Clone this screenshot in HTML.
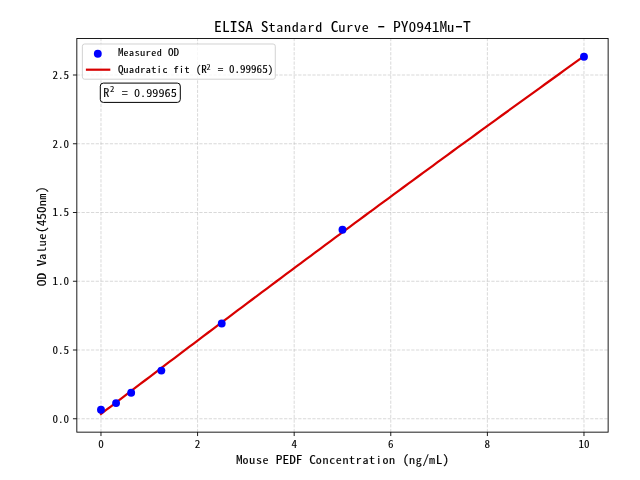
<!DOCTYPE html>
<html><head><meta charset="utf-8"><title>ELISA Standard Curve - PY0941Mu-T</title>
<style>html,body{margin:0;padding:0;background:#fff;overflow:hidden}svg{display:block}</style></head>
<body><svg width="640" height="480" viewBox="0 0 640 480" font-family="'Noto Sans Mono CJK SC','WenQuanYi Zen Hei Mono','IPAGothic','Liberation Mono',monospace"><rect x="0" y="0" width="640" height="480" fill="#fff"/>
<g stroke="#b0b0b0" stroke-opacity="0.55" stroke-width="0.89" stroke-dasharray="3.29 1.42"><line x1="100.98" y1="432.15" x2="100.98" y2="38.50"/><line x1="197.58" y1="432.15" x2="197.58" y2="38.50"/><line x1="294.18" y1="432.15" x2="294.18" y2="38.50"/><line x1="390.78" y1="432.15" x2="390.78" y2="38.50"/><line x1="487.38" y1="432.15" x2="487.38" y2="38.50"/><line x1="583.98" y1="432.15" x2="583.98" y2="38.50"/><line x1="76.83" y1="418.75" x2="608.13" y2="418.75"/><line x1="76.83" y1="350.00" x2="608.13" y2="350.00"/><line x1="76.83" y1="281.25" x2="608.13" y2="281.25"/><line x1="76.83" y1="212.50" x2="608.13" y2="212.50"/><line x1="76.83" y1="143.75" x2="608.13" y2="143.75"/><line x1="76.83" y1="75.00" x2="608.13" y2="75.00"/></g>
<polyline points="100.98,413.96 105.86,410.23 110.74,406.51 115.62,402.79 120.50,399.07 125.37,395.35 130.25,391.63 135.13,387.92 140.01,384.21 144.89,380.50 149.77,376.79 154.65,373.09 159.53,369.39 164.40,365.69 169.28,361.99 174.16,358.30 179.04,354.60 183.92,350.91 188.80,347.22 193.68,343.54 198.56,339.86 203.43,336.18 208.31,332.50 213.19,328.82 218.07,325.15 222.95,321.47 227.83,317.81 232.71,314.14 237.59,310.47 242.46,306.81 247.34,303.15 252.22,299.49 257.10,295.84 261.98,292.19 266.86,288.53 271.74,284.89 276.62,281.24 281.50,277.60 286.37,273.95 291.25,270.32 296.13,266.68 301.01,263.04 305.89,259.41 310.77,255.78 315.65,252.15 320.53,248.53 325.40,244.91 330.28,241.29 335.16,237.67 340.04,234.05 344.92,230.44 349.80,226.83 354.68,223.22 359.56,219.61 364.43,216.01 369.31,212.40 374.19,208.80 379.07,205.21 383.95,201.61 388.83,198.02 393.71,194.43 398.59,190.84 403.46,187.25 408.34,183.67 413.22,180.09 418.10,176.51 422.98,172.93 427.86,169.36 432.74,165.79 437.62,162.22 442.50,158.65 447.37,155.09 452.25,151.52 457.13,147.96 462.01,144.41 466.89,140.85 471.77,137.30 476.65,133.75 481.53,130.20 486.40,126.65 491.28,123.11 496.16,119.56 501.04,116.02 505.92,112.49 510.80,108.95 515.68,105.42 520.56,101.89 525.43,98.36 530.31,94.84 535.19,91.31 540.07,87.79 544.95,84.27 549.83,80.76 554.71,77.24 559.59,73.73 564.46,70.22 569.34,66.72 574.22,63.21 579.10,59.71 583.98,56.21" fill="none" stroke="#d80000" stroke-width="2.22" stroke-linecap="square" stroke-linejoin="round"/>
<circle cx="100.98" cy="409.74" r="3.93" fill="#0000ff"/>
<circle cx="116.07" cy="403.07" r="3.93" fill="#0000ff"/>
<circle cx="131.17" cy="392.76" r="3.93" fill="#0000ff"/>
<circle cx="161.36" cy="370.62" r="3.93" fill="#0000ff"/>
<circle cx="221.73" cy="323.50" r="3.93" fill="#0000ff"/>
<circle cx="342.48" cy="229.76" r="3.93" fill="#0000ff"/>
<circle cx="583.98" cy="56.71" r="3.93" fill="#0000ff"/>
<rect x="76.83" y="38.50" width="531.30" height="393.65" fill="none" stroke="#000" stroke-width="0.89"/>
<g stroke="#000" stroke-width="0.89"><line x1="100.98" y1="432.15" x2="100.98" y2="436.04"/><line x1="197.58" y1="432.15" x2="197.58" y2="436.04"/><line x1="294.18" y1="432.15" x2="294.18" y2="436.04"/><line x1="390.78" y1="432.15" x2="390.78" y2="436.04"/><line x1="487.38" y1="432.15" x2="487.38" y2="436.04"/><line x1="583.98" y1="432.15" x2="583.98" y2="436.04"/><line x1="76.83" y1="418.75" x2="72.94" y2="418.75"/><line x1="76.83" y1="350.00" x2="72.94" y2="350.00"/><line x1="76.83" y1="281.25" x2="72.94" y2="281.25"/><line x1="76.83" y1="212.50" x2="72.94" y2="212.50"/><line x1="76.83" y1="143.75" x2="72.94" y2="143.75"/><line x1="76.83" y1="75.00" x2="72.94" y2="75.00"/></g>
<rect x="82.39" y="44.00" width="192.9" height="35.2" rx="2.2" fill="#fff" fill-opacity="0.8" stroke="#cccccc" stroke-width="0.89"/>
<circle cx="97.8" cy="53.75" r="3.93" fill="#0000ff"/>
<line x1="87.0" y1="69.7" x2="109.2" y2="69.7" stroke="#d80000" stroke-width="2.22" stroke-linecap="square"/>
<rect x="100.3" y="83.1" width="80" height="19.3" rx="3" fill="#fff" stroke="#000" stroke-width="1.0"/>
<g fill="#000" stroke="#000"><text transform="translate(100.98 447.70) scale(1 0.93)" font-size="11.11" text-anchor="middle" stroke-width="0.1">0</text>
<text transform="translate(197.58 447.70) scale(1 0.93)" font-size="11.11" text-anchor="middle" stroke-width="0.1">2</text>
<text transform="translate(294.18 447.70) scale(1 0.93)" font-size="11.11" text-anchor="middle" stroke-width="0.1">4</text>
<text transform="translate(390.78 447.70) scale(1 0.93)" font-size="11.11" text-anchor="middle" stroke-width="0.1">6</text>
<text transform="translate(487.38 447.70) scale(1 0.93)" font-size="11.11" text-anchor="middle" stroke-width="0.1">8</text>
<text transform="translate(583.98 447.70) scale(1 0.93)" font-size="11.11" text-anchor="middle" stroke-width="0.1">10</text>
<text transform="translate(69.05 422.65) scale(1 0.93)" font-size="11.11" text-anchor="end" stroke-width="0.1">0.0</text>
<text transform="translate(69.05 353.90) scale(1 0.93)" font-size="11.11" text-anchor="end" stroke-width="0.1">0.5</text>
<text transform="translate(69.05 285.15) scale(1 0.93)" font-size="11.11" text-anchor="end" stroke-width="0.1">1.0</text>
<text transform="translate(69.05 216.40) scale(1 0.93)" font-size="11.11" text-anchor="end" stroke-width="0.1">1.5</text>
<text transform="translate(69.05 147.65) scale(1 0.93)" font-size="11.11" text-anchor="end" stroke-width="0.1">2.0</text>
<text transform="translate(69.05 78.90) scale(1 0.93)" font-size="11.11" text-anchor="end" stroke-width="0.1">2.5</text>
<text transform="translate(342.48 463.70) scale(1 0.91)" font-size="13.33" text-anchor="middle" stroke-width="0.12">M<tspan font-size="11.997" letter-spacing="0.666">ouse</tspan> PEDF C<tspan font-size="11.997" letter-spacing="0.666">oncentration</tspan> (<tspan font-size="11.997" letter-spacing="0.666">ng</tspan>/<tspan font-size="11.997" letter-spacing="0.666">m</tspan>L)</text>
<text transform="translate(45.60 236.32) rotate(-90) scale(1 0.91)" font-size="13.33" text-anchor="middle" stroke-width="0.12">OD V<tspan font-size="11.997" letter-spacing="0.666">alue</tspan>(450<tspan font-size="11.997" letter-spacing="0.666">nm</tspan>)</text>
<text transform="translate(214.11 31.7) scale(1 0.91)" font-size="15.56" stroke-width="0.04">ELISA S<tspan font-size="14.004" letter-spacing="0.778">tandard</tspan> C<tspan font-size="14.004" letter-spacing="0.778">urve</tspan> <tspan dx="-1.36" font-size="21.0">-</tspan><tspan dx="-1.36"> PY0941M</tspan><tspan font-size="14.004" letter-spacing="0.778">u</tspan><tspan dx="-1.36" font-size="21.0">-</tspan><tspan dx="-1.36">T</tspan></text>
<text transform="translate(118.00 55.90) scale(1 0.91)" font-size="11.11" stroke-width="0.14">M<tspan font-size="9.999" letter-spacing="0.555">easured</tspan> OD</text>
<text transform="translate(118 73.2) scale(1 0.91)" font-size="11.11" stroke-width="0.14">Q<tspan font-size="9.999" letter-spacing="0.555">uadratic</tspan> <tspan font-size="9.999" letter-spacing="0.555">fit</tspan> (R<tspan x="88.40" dy="-3.96" font-size="8.1" stroke-width="0.12">2</tspan><tspan x="94.25" dy="3.96"> = 0.99965)</tspan></text>
<text transform="translate(103.2 97.1) scale(1 0.92)" font-size="12.22" stroke-width="0.05">R<tspan x="6.80" dy="-5.11" font-size="8.8" stroke-width="0.1">2</tspan><tspan x="12.49" dy="5.11"> = 0.99965</tspan></text></g></svg></body></html>
